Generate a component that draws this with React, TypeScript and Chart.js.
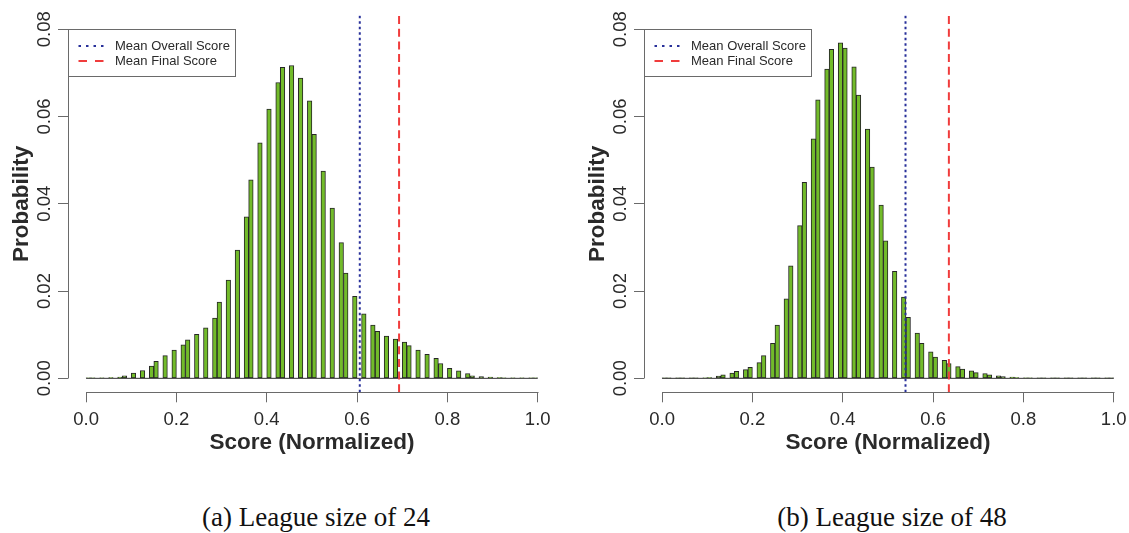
import React, { useEffect, useRef } from 'react';
import { Chart, registerables } from 'chart.js';

Chart.register(...registerables);

// ---------- data ----------
const xTicks = [0, 0.2, 0.4, 0.6, 0.8, 1.0];
const yTicks = [0, 0.02, 0.04, 0.06, 0.08];

const xTitle = 'Score (Normalized)';
const yTitle = 'Probability';
const legendOverall = 'Mean Overall Score';
const legendFinal = 'Mean Final Score';

const captionA = '(a) League size of 24';
const binsA = [
  0.005, 0.015, 0.035, 0.055, 0.075, 0.085, 0.105, 0.125, 0.145, 0.155,
  0.175, 0.195, 0.215, 0.225, 0.245, 0.265, 0.285, 0.295, 0.315, 0.335,
  0.355, 0.365, 0.385, 0.405, 0.425, 0.435, 0.455, 0.475, 0.495, 0.505,
  0.525, 0.545, 0.565, 0.575, 0.595, 0.615, 0.635, 0.645, 0.665, 0.685,
  0.705, 0.715, 0.735, 0.755, 0.775, 0.785, 0.805, 0.825, 0.845, 0.855,
  0.875, 0.895, 0.915, 0.925, 0.945, 0.965, 0.985, 0.995,
];
const probsA = [
  0.0001, 0.0001, 0.0001, 0.0002, 0.0003, 0.0006, 0.0012, 0.0018, 0.0028, 0.0039,
  0.0052, 0.0065, 0.0077, 0.0088, 0.0101, 0.0116, 0.0138, 0.0175, 0.0225, 0.0294,
  0.0370, 0.0455, 0.0540, 0.0617, 0.0678, 0.0713, 0.0717, 0.0688, 0.0636, 0.0559,
  0.0475, 0.0390, 0.0311, 0.0241, 0.0188, 0.0148, 0.0122, 0.0108, 0.0097, 0.0090,
  0.0083, 0.0075, 0.0065, 0.0055, 0.0046, 0.0034, 0.0023, 0.0017, 0.0011, 0.0006,
  0.0004, 0.0003, 0.0002, 0.0001, 0.0001, 0.0001, 0.0001, 0.0001,
];
const meanOverallA = 0.606;
const meanFinalA = 0.693;

const captionB = '(b) League size of 48';
const binsB = [
  0.005, 0.015, 0.035, 0.045, 0.065, 0.075, 0.095, 0.105, 0.125, 0.135,
  0.155, 0.165, 0.185, 0.195, 0.215, 0.225, 0.245, 0.255, 0.275, 0.285,
  0.305, 0.315, 0.335, 0.345, 0.365, 0.375, 0.395, 0.405, 0.425, 0.435,
  0.455, 0.465, 0.485, 0.495, 0.515, 0.535, 0.545, 0.565, 0.575, 0.595,
  0.605, 0.625, 0.635, 0.655, 0.665, 0.685, 0.695, 0.715, 0.725, 0.745,
  0.755, 0.775, 0.785, 0.805, 0.815, 0.835, 0.845, 0.865, 0.875, 0.895,
  0.905, 0.925, 0.935, 0.955, 0.965, 0.985, 0.995,
];
const probsB = [
  0.00005, 0.00005, 0.00005, 0.00005, 0.00005, 0.00005, 0.0001, 0.0002, 0.0005, 0.0008,
  0.0012, 0.0016, 0.0020, 0.0025, 0.0036, 0.0052, 0.0080, 0.0122, 0.0182, 0.0258,
  0.0350, 0.0449, 0.0549, 0.0638, 0.0709, 0.0754, 0.0769, 0.0757, 0.0714, 0.0649,
  0.0571, 0.0484, 0.0397, 0.0315, 0.0245, 0.0186, 0.0140, 0.0104, 0.0080, 0.0061,
  0.0049, 0.0041, 0.0034, 0.0027, 0.0021, 0.0017, 0.0013, 0.0011, 0.0008, 0.0006,
  0.0004, 0.0003, 0.0002, 0.0001, 0.0001, 0.00005, 0.00005, 0.00005, 0.00005, 0.00005,
  0.00005, 0.00005, 0.00005, 0.00005, 0.00005, 0.00005, 0.00005,
];
const meanOverallB = 0.539;
const meanFinalB = 0.635;

// ---------- style ----------
const X_MIN = -0.04;
const X_MAX = 1.04;
const Y_MIN = -0.0032;
const Y_MAX = 0.0832;
const CW = 570;
const CH = 470;
const GREEN = '#72bb2a';
const BAR_EDGE = '#262626';
const BLUE = '#28309a';
const RED = '#f03c3c';
const AXIS = '#6a6a6a';
const TEXT = '#2a2a2a';
const FONT = "'Liberation Sans', Arial, Helvetica, sans-serif";

const rAxesPlugin = {
  id: 'rAxes',
  afterDraw(chart: any) {
    const { ctx, chartArea, scales } = chart;
    const xs = scales.x;
    const ys = scales.y;
    ctx.save();
    ctx.strokeStyle = AXIS;
    ctx.lineWidth = 1;
    ctx.setLineDash([]);
    const yb = Math.round(chartArea.bottom) + 0.5;
    ctx.beginPath();
    ctx.moveTo(Math.round(xs.getPixelForValue(xTicks[0])) + 0.5, yb);
    ctx.lineTo(Math.round(xs.getPixelForValue(xTicks[xTicks.length - 1])) + 0.5, yb);
    ctx.stroke();
    const xl = Math.round(chartArea.left) + 0.5;
    ctx.beginPath();
    ctx.moveTo(xl, Math.round(ys.getPixelForValue(yTicks[0])) + 0.5);
    ctx.lineTo(xl, Math.round(ys.getPixelForValue(yTicks[yTicks.length - 1])) + 0.5);
    ctx.stroke();
    ctx.restore();
  },
};

const rLegendPlugin = {
  id: 'rLegend',
  afterDraw(chart: any) {
    const { ctx, chartArea, scales } = chart;
    const items = chart.data.datasets.filter((d: any) => d.legendDash);
    const left = Math.round(chartArea.left) + 0.5;
    const top = Math.round(scales.y.getPixelForValue(yTicks[yTicks.length - 1])) + 0.5;
    const w = 167;
    const h = 47;
    ctx.save();
    ctx.fillStyle = '#ffffff';
    ctx.fillRect(left, top, w, h);
    ctx.strokeStyle = AXIS;
    ctx.lineWidth = 1;
    ctx.setLineDash([]);
    ctx.strokeRect(left, top, w, h);
    items.forEach((d: any, i: number) => {
      const y = top + 16.5 + i * 15;
      ctx.strokeStyle = d.borderColor;
      ctx.lineWidth = 2;
      ctx.setLineDash(d.legendDash);
      ctx.beginPath();
      ctx.moveTo(left + 10, y);
      ctx.lineTo(left + 36, y);
      ctx.stroke();
      ctx.setLineDash([]);
      ctx.fillStyle = TEXT;
      ctx.font = `13px ${FONT}`;
      ctx.textBaseline = 'middle';
      ctx.textAlign = 'left';
      ctx.fillText(d.label, left + 46.5, y);
    });
    ctx.restore();
  },
};

type HistProps = {
  bins: number[];
  probs: number[];
  meanOverall: number;
  meanFinal: number;
};

function Histogram({ bins, probs, meanOverall, meanFinal }: HistProps) {
  const ref = useRef<HTMLCanvasElement>(null);
  useEffect(() => {
    if (!ref.current) return;
    const chart = new Chart(ref.current, {
      type: 'bar',
      data: {
        datasets: [
          {
            type: 'line',
            label: legendOverall,
            data: [
              { x: meanOverall, y: Y_MIN },
              { x: meanOverall, y: Y_MAX },
            ],
            borderColor: BLUE,
            borderWidth: 2,
            borderDash: [2.5, 3],
            pointRadius: 0,
            order: 1,
            legendDash: [2.5, 5],
          } as any,
          {
            type: 'line',
            label: legendFinal,
            data: [
              { x: meanFinal, y: Y_MIN },
              { x: meanFinal, y: Y_MAX },
            ],
            borderColor: RED,
            borderWidth: 2,
            borderDash: [8, 4.7],
            pointRadius: 0,
            order: 1,
            legendDash: [8.5, 8],
          } as any,
          {
            type: 'line',
            label: 'baseline',
            data: [
              { x: xTicks[0], y: 0 },
              { x: xTicks[xTicks.length - 1], y: 0 },
            ],
            borderColor: '#333333',
            borderWidth: 1,
            pointRadius: 0,
            order: 2,
          } as any,
          {
            type: 'bar',
            label: 'hist',
            data: bins.map((b, i) => ({ x: b, y: probs[i] })),
            backgroundColor: GREEN,
            borderColor: BAR_EDGE,
            borderWidth: 1,
            borderSkipped: false,
            barPercentage: 1,
            categoryPercentage: 1,
            order: 3,
          } as any,
        ],
      },
      options: {
        responsive: false,
        animation: false,
        devicePixelRatio: 1,
        layout: { padding: { top: 15.3, right: CW - 555.8, bottom: 0, left: 0 } },
        plugins: {
          legend: { display: false },
          tooltip: { enabled: false },
        },
        scales: {
          x: {
            type: 'linear',
            min: X_MIN,
            max: X_MAX,
            offset: false,
            afterBuildTicks: (s: any) => {
              s.ticks = xTicks.map((v) => ({ value: v }));
            },
            afterFit: (s: any) => {
              s.height = CH - 392.3;
            },
            grid: {
              display: true,
              offset: false,
              drawOnChartArea: false,
              drawTicks: true,
              tickLength: 10,
              color: AXIS,
              lineWidth: 1,
            },
            border: { display: false },
            ticks: {
              autoSkip: false,
              minRotation: 0,
              maxRotation: 0,
              padding: 6.5,
              color: TEXT,
              font: { family: FONT, size: 18.5 },
              callback: (v: any) => Number(v).toFixed(1),
            },
            title: {
              display: true,
              text: xTitle,
              color: TEXT,
              font: { family: FONT, size: 22.5, weight: 'bold' },
              padding: { top: 0, bottom: 13.5 },
            },
          },
          y: {
            type: 'linear',
            min: Y_MIN,
            max: Y_MAX,
            afterBuildTicks: (s: any) => {
              s.ticks = yTicks.map((v) => ({ value: v }));
            },
            afterFit: (s: any) => {
              s.width = 68;
            },
            grid: {
              display: true,
              drawOnChartArea: false,
              drawTicks: true,
              tickLength: 10,
              color: AXIS,
              lineWidth: 1,
            },
            border: { display: false },
            ticks: {
              autoSkip: false,
              minRotation: 90,
              maxRotation: 90,
              crossAlign: 'center',
              padding: -5,
              color: TEXT,
              font: { family: FONT, size: 18.5 },
              callback: (v: any) => Number(v).toFixed(2),
            },
            title: {
              display: true,
              text: yTitle,
              color: TEXT,
              font: { family: FONT, size: 22.5, weight: 'bold' },
              padding: { top: 8, bottom: 0 },
            },
          },
        },
      } as any,
      plugins: [rAxesPlugin, rLegendPlugin],
    });
    return () => chart.destroy();
  }, [bins, probs, meanOverall, meanFinal]);
  return <canvas ref={ref} width={CW} height={CH} style={{ width: CW, height: CH, display: 'block' }} />;
}

const captionStyle: React.CSSProperties = {
  position: 'absolute',
  top: 504,
  fontFamily: "'Liberation Serif', 'Times New Roman', serif",
  fontSize: 27,
  lineHeight: '27px',
  color: '#111',
  textAlign: 'center',
  whiteSpace: 'nowrap',
};

export default function App() {
  return (
    <div style={{ position: 'absolute', left: 0, top: 0, width: 1129, height: 533, background: '#fff', overflow: 'hidden' }}>
      <div style={{ position: 'absolute', left: 0, top: 0 }}>
        <Histogram bins={binsA} probs={probsA} meanOverall={meanOverallA} meanFinal={meanFinalA} />
      </div>
      <div style={{ position: 'absolute', left: 576, top: 0 }}>
        <Histogram bins={binsB} probs={probsB} meanOverall={meanOverallB} meanFinal={meanFinalB} />
      </div>
      <div style={{ ...captionStyle, left: 16, width: 600 }}>{captionA}</div>
      <div style={{ ...captionStyle, left: 592, width: 600 }}>{captionB}</div>
    </div>
  );
}
